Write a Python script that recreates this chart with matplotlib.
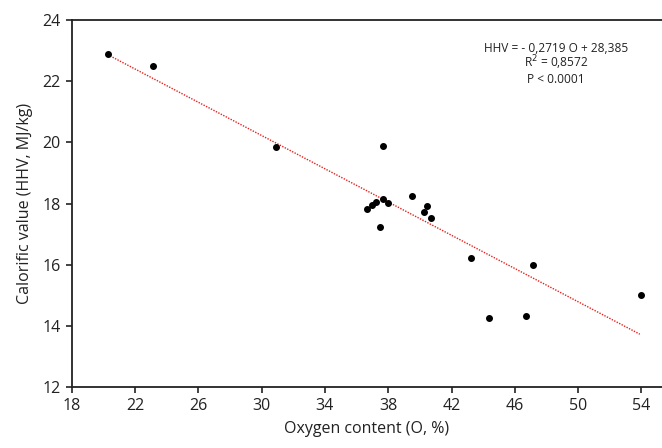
import matplotlib
matplotlib.use("Agg")
import matplotlib.pyplot as plt
import numpy as np

plt.rcParams['font.family'] = ['Open Sans', 'DejaVu Sans']

oxygen = [20.27, 23.12, 30.89, 36.65, 36.97, 37.20, 37.68, 38.00, 37.50, 37.68,
          39.48, 40.47, 40.27, 40.68, 43.23, 44.36, 46.70, 47.12, 53.96]
hhv = [22.89, 22.49, 19.86, 17.84, 17.95, 18.04, 18.14, 18.03, 17.22, 19.89,
       18.24, 17.91, 17.71, 17.53, 16.21, 14.25, 14.34, 15.99, 15.00]
slope = -0.2719
intercept = 28.385
fit_range = [20.27, 53.9]
xticks = [18, 22, 26, 30, 34, 38, 42, 46, 50, 54]
yticks = [12, 14, 16, 18, 20, 22, 24]

fig = plt.figure(figsize=(6.62, 4.48), dpi=100)
ax = fig.add_axes([0.1083, 0.136, 0.8917, 0.819])

xf = np.array(fit_range)
ax.plot(xf, slope * xf + intercept, color='#e8211d', linestyle=(0, (1, 1)), linewidth=1.0, zorder=2)
ax.scatter(oxygen, hhv, s=16, color='black', zorder=3)

ax.set_xlim(18, 55.3)
ax.set_ylim(12, 24)
ax.set_xticks(xticks)
ax.set_yticks(yticks)
ax.spines['right'].set_visible(False)
for s in ['left', 'bottom', 'top']:
    ax.spines[s].set_linewidth(1.3)
    ax.spines[s].set_color('#222222')
ax.tick_params(axis='both', direction='out', length=4, width=1.2, labelsize=11.5, colors='#222222', pad=4)

ax.set_xlabel('Oxygen content (O, %)', fontsize=11.5, color='#222222', labelpad=5)
ax.set_ylabel('Calorific value (HHV, MJ/kg)', fontsize=11.5, color='#222222', labelpad=7)

ax.text(0.820, 0.924, 'HHV = - 0,2719 O + 28,385', transform=ax.transAxes, ha='center', va='center', fontsize=8.6, color='#222222')
ax.text(0.820, 0.883, 'R$^{2}$ = 0,8572', transform=ax.transAxes, ha='center', va='center', fontsize=8.6, color='#222222')
ax.text(0.820, 0.839, 'P < 0.0001', transform=ax.transAxes, ha='center', va='center', fontsize=8.6, color='#222222')

fig.savefig('out.png', dpi=100)
